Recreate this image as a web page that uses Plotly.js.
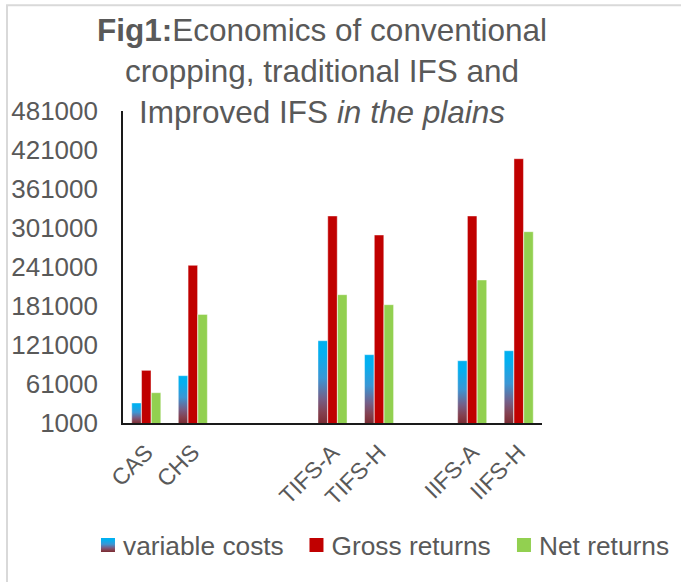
<!DOCTYPE html>
<html>
<head>
<meta charset="utf-8">
<script src="https://cdn.plot.ly/plotly-3.0.1.min.js"></script>
<style>
  html, body { margin: 0; padding: 0; background: #ffffff; }
  #chart { width: 681px; height: 582px; }
</style>
</head>
<body>
<div id="chart"></div>
<script>
// ---- data ----
const categories = ['CAS', 'CHS', ' ', '  ', 'TIFS-A', 'TIFS-H', '   ', 'IIFS-A', 'IIFS-H'];
const variableCosts = [31800, 73800, null, null, 127600, 106100, null, 96800, 112200];
const grossReturns  = [82000, 243500, null, null, 319500, 290200, null, 319500, 407600];
const netReturns    = [47600, 168100, null, null, 198400, 183000, null, 221000, 295300];
const seriesNames = ['variable costs', 'Gross returns', 'Net returns'];
const yTickStart = 1000;
const yTickStep = 60000;
const yMax = 481000;

const textColor = '#595959';
const font = 'Liberation Sans, Arial, sans-serif';
const edge = { color: 'rgba(255,255,255,0.55)', width: 0.8 };

const traces = [
  { type: 'bar', name: seriesNames[0], x: categories, y: variableCosts, legend: 'legend',
    marker: { color: '#00B0F0', line: edge } },
  { type: 'bar', name: seriesNames[1], x: categories, y: grossReturns, legend: 'legend2',
    marker: { color: '#C00000', line: edge } },
  { type: 'bar', name: seriesNames[2], x: categories, y: netReturns, legend: 'legend3',
    marker: { color: '#92D050', line: edge } }
];

function legendAt(xPaper) {
  return {
    orientation: 'h', xanchor: 'left', x: xPaper, yanchor: 'middle', y: -0.392,
    font: { family: font, size: 26.3, color: textColor },
    itemclick: false, bgcolor: 'rgba(0,0,0,0)', borderwidth: 0
  };
}

const layout = {
  width: 681, height: 582,
  paper_bgcolor: '#ffffff', plot_bgcolor: 'rgba(0,0,0,0)',
  margin: { l: 123, r: 139, t: 111, b: 158.5, pad: 0, autoexpand: false },
  font: { family: font, color: textColor, size: 26 },
  title: {
    text: '<b>Fig1:</b>Economics of conventional<br>cropping, traditional IFS and<br>Improved IFS <i>in the plains</i>',
    font: { family: font, size: 31.5, color: textColor },
    xref: 'paper', x: 0.475, xanchor: 'center',
    yref: 'container', y: 0.93, yanchor: 'top',
    automargin: false
  },
  barmode: 'group', bargap: 0.37, bargroupgap: 0.03,
  showlegend: true,
  legend: legendAt(-0.0955),
  legend2: legendAt(0.4021),
  legend3: legendAt(0.8973),
  xaxis: {
    type: 'category', categoryorder: 'array', categoryarray: categories,
    range: [-0.5, categories.length - 0.5],
    showline: true, linecolor: '#1a1a1a', linewidth: 1.8,
    showgrid: false, zeroline: false, ticks: '', ticklabelstandoff: 5,
    tickangle: -45, tickfont: { family: font, size: 23, color: textColor },
    fixedrange: true
  },
  yaxis: {
    range: [yTickStart, yMax], tickmode: 'linear', tick0: yTickStart, dtick: yTickStep,
    tickformat: 'd',
    showline: true, linecolor: '#1a1a1a', linewidth: 1.8,
    showgrid: false, zeroline: false, ticks: '', ticklabelstandoff: 18,
    tickfont: { family: font, size: 26, color: textColor },
    fixedrange: true
  },
  shapes: [
    { type: 'rect', xref: 'paper', yref: 'paper', layer: 'below',
      x0: -0.2768, x1: 1.36, y0: -1.0, y1: 1.3392,
      line: { color: '#D9D9D9', width: 2 }, fillcolor: 'rgba(0,0,0,0)' }
  ]
};

Plotly.newPlot('chart', traces, layout, { displayModeBar: false, staticPlot: true }).then(function (gd) {
  // vertical gradient (blue top -> dark red bottom) on the variable-cost bars, as in the reference
  const svg = gd.querySelector('svg.main-svg');
  const ns = 'http://www.w3.org/2000/svg';
  let defs = svg.querySelector('defs');
  if (!defs) { defs = document.createElementNS(ns, 'defs'); svg.insertBefore(defs, svg.firstChild); }
  const grad = document.createElementNS(ns, 'linearGradient');
  grad.setAttribute('id', 'vcgrad');
  grad.setAttribute('x1', '0'); grad.setAttribute('y1', '0');
  grad.setAttribute('x2', '0'); grad.setAttribute('y2', '1');
  [[0, '#00B0F0'], [0.15, '#04AFF0'], [0.45, '#3B96D4'], [0.7, '#755F88'], [0.87, '#84404F'], [1, '#7A2C33']]
    .forEach(function (s) {
      const st = document.createElementNS(ns, 'stop');
      st.setAttribute('offset', s[0]);
      st.setAttribute('stop-color', s[1]);
      grad.appendChild(st);
    });
  defs.appendChild(grad);
  const barTraces = gd.querySelectorAll('.barlayer .trace');
  if (barTraces.length) {
    barTraces[0].querySelectorAll('.point path').forEach(function (p) { p.style.fill = 'url(#vcgrad)'; });
  }
  // 14px square legend swatches sitting close to their text, as in the reference
  gd.querySelectorAll('.legendpoints path').forEach(function (p) {
    p.setAttribute('d', 'M12,7H-2V-7H12Z');
    p.style.strokeWidth = '0px';
  });
  const leg = gd.querySelector('g.legend');
  if (leg) {
    leg.querySelectorAll('.legendpoints path').forEach(function (p) { p.style.fill = 'url(#vcgrad)'; });
  }
});
</script>
</body>
</html>
